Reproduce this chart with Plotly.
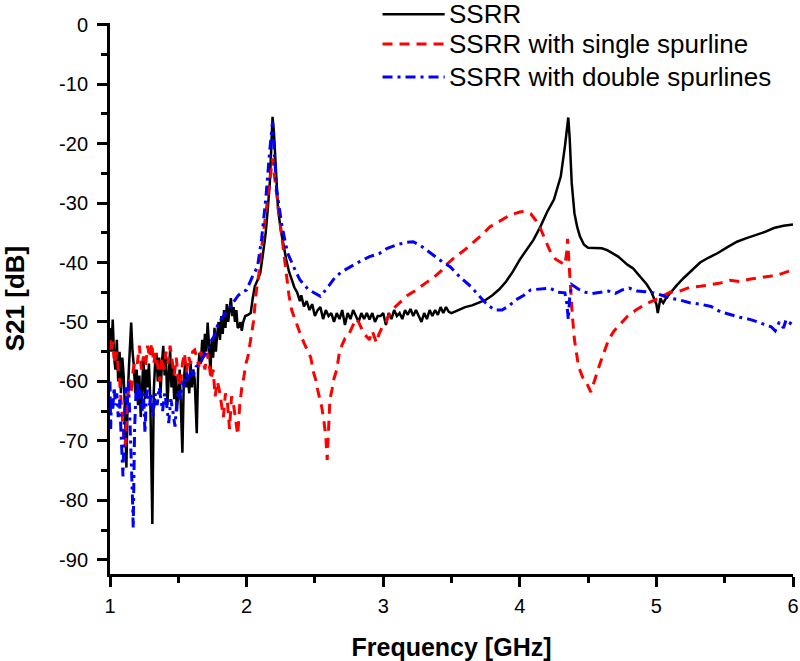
import plotly.graph_objects as go

# ---------------- data ----------------
ssrr_f = [1.00, 1.01, 1.02, 1.03, 1.04, 1.05, 1.06, 1.07, 1.08, 1.09, 1.10, 1.11, 1.12, 1.13, 1.14,
          1.155, 1.165, 1.175, 1.185, 1.195, 1.205, 1.215, 1.225, 1.235, 1.245, 1.255, 1.265, 1.275,
          1.285, 1.295, 1.31, 1.32, 1.33, 1.34, 1.35, 1.36, 1.37, 1.38, 1.39, 1.40, 1.41, 1.42, 1.43,
          1.44, 1.45, 1.46, 1.47, 1.48, 1.49, 1.50, 1.51, 1.52, 1.53, 1.54, 1.55, 1.56, 1.57, 1.58,
          1.59, 1.60, 1.61, 1.62, 1.635, 1.645, 1.655, 1.665, 1.675, 1.685, 1.695, 1.705, 1.715,
          1.725, 1.735, 1.745, 1.755, 1.765, 1.775, 1.785, 1.795, 1.805, 1.815, 1.825, 1.835, 1.845,
          1.855, 1.865, 1.875, 1.885, 1.895, 1.905, 1.915, 1.925, 1.935, 1.945, 1.955, 1.965, 1.975,
          1.99, 2.01, 2.03, 2.045, 2.06, 2.08, 2.10, 2.12, 2.14, 2.155, 2.17, 2.18, 2.19, 2.20, 2.21,
          2.22, 2.23, 2.25, 2.27, 2.29, 2.31, 2.33, 2.35, 2.37, 2.39, 2.40, 2.42, 2.44, 2.46, 2.48,
          2.50, 2.52, 2.54, 2.56, 2.58, 2.60, 2.62, 2.64, 2.66, 2.68, 2.70, 2.72, 2.74, 2.76, 2.78,
          2.80, 2.82, 2.84, 2.86, 2.88, 2.90, 2.92, 2.94, 2.96, 2.98, 3.00, 3.02, 3.04, 3.06, 3.08,
          3.10, 3.12, 3.14, 3.16, 3.18, 3.20, 3.22, 3.24, 3.26, 3.28, 3.30, 3.32, 3.34, 3.36, 3.38,
          3.40, 3.42, 3.44, 3.46, 3.48, 3.50, 3.55, 3.60, 3.65, 3.70, 3.75, 3.80, 3.85, 3.90, 3.95,
          4.00, 4.05, 4.10, 4.15, 4.20, 4.25, 4.30, 4.33, 4.345, 4.355, 4.365, 4.38, 4.40, 4.42, 4.44,
          4.47, 4.50, 4.55, 4.60, 4.64, 4.68, 4.72, 4.76, 4.79, 4.83, 4.86, 4.90, 4.93, 4.96, 4.98,
          5.00, 5.01, 5.02, 5.03, 5.04, 5.05, 5.07, 5.10, 5.15, 5.20, 5.26, 5.32, 5.38, 5.45, 5.52,
          5.59, 5.66, 5.74, 5.80, 5.86, 5.93, 6.00]
ssrr_s21 = [-51, -55, -49.6, -56, -58, -53, -60, -55, -62, -56, -59, -65, -74.5, -62, -57,
            -50.1, -55, -57.5, -62, -58, -64, -59, -66, -60, -56, -63, -58, -61,
            -57, -63, -84, -62, -57, -55.2, -60, -56, -62, -57, -54, -59, -56, -64, -58,
            -54.7, -61, -57, -63, -59, -65, -61.4, -58, -65, -72, -60, -57, -61, -59, -62,
            -57, -61, -58, -59.7, -68.7, -58, -55.2, -57, -53, -56, -52, -55, -50.1,
            -54, -58.5, -53, -56, -51, -55, -52, -50, -53, -49, -52, -48, -51,
            -47, -50, -48, -46, -49, -47.5, -50, -48, -51, -50.8, -50, -51.5, -50,
            -49, -48.8, -48.5, -46, -44, -43, -41.8, -38.5, -35, -31, -26.6, -21, -15.5, -18, -22.7,
            -27, -31, -34.5, -37.3, -39.5, -41.5, -43, -44.2, -45, -46.5, -45.5, -47.4, -46.5, -48, -47,
            -49, -48, -47.5, -49.5, -48, -49, -48.5, -50, -48.5, -49.5, -48, -50.5, -48.5, -49.5, -48,
            -49, -50, -48.5, -49.5, -48.5, -49.6, -48.5, -50, -49, -49, -48.5, -50.5, -48.5, -49.5, -48,
            -49, -48.5, -49.5, -48, -48.8, -47.8, -49, -48, -49, -50, -48.5, -49.5, -48, -49, -48,
            -48.8, -47.5, -48.5, -47.5, -48.3, -48.5, -48, -47.5, -47.2, -46.8, -46.3, -45.5, -44.5, -43.2, -41.5,
            -39.5, -37.8, -36.2, -34, -31.5, -29.4, -25.5, -20.5, -17.5, -15.6, -19, -26.6, -31.7, -34, -35.6,
            -37, -37.5, -37.6, -37.6, -37.9, -38.4, -39, -39.8, -40.4, -41, -41.8, -42.8, -43.7, -44.8, -45.8,
            -47, -48.5, -47.5, -46, -46.5, -46.8, -46, -45.1, -43.8, -42.6, -41.3, -40, -39.2, -38.4, -37.4,
            -36.5, -35.9, -35.3, -34.8, -34.2, -33.8, -33.6]

single_f = [1.00, 1.01, 1.02, 1.03, 1.04, 1.05, 1.06, 1.07, 1.08, 1.09, 1.10, 1.11, 1.115, 1.125,
            1.14, 1.155, 1.17, 1.185, 1.20, 1.215, 1.23, 1.245, 1.26, 1.275, 1.29, 1.305, 1.32,
            1.335, 1.35, 1.365, 1.38, 1.395, 1.41, 1.425, 1.44, 1.455, 1.47, 1.485, 1.50, 1.515,
            1.53, 1.545, 1.56, 1.575, 1.59, 1.605, 1.62, 1.635, 1.65, 1.665, 1.68, 1.695, 1.71,
            1.725, 1.74, 1.755, 1.77, 1.785, 1.80, 1.815, 1.83, 1.845, 1.86, 1.875, 1.89, 1.905,
            1.92, 1.935, 1.95, 1.965, 1.98, 1.995, 2.01, 2.03, 2.05, 2.07, 2.09, 2.11, 2.13, 2.15,
            2.17, 2.19, 2.21, 2.23, 2.25, 2.27, 2.29, 2.31, 2.33, 2.36, 2.39, 2.42, 2.45, 2.47,
            2.49, 2.51, 2.52, 2.535, 2.55, 2.565, 2.58, 2.59, 2.60, 2.61, 2.625, 2.64, 2.66, 2.68,
            2.70, 2.72, 2.74, 2.76, 2.78, 2.80, 2.82, 2.84, 2.86, 2.88, 2.90, 2.92, 2.95, 2.97,
            2.99, 3.02, 3.05, 3.09, 3.13, 3.18, 3.23, 3.27, 3.32, 3.37, 3.42, 3.47, 3.53, 3.60,
            3.67, 3.73, 3.78, 3.85, 3.93, 4.00, 4.04, 4.08, 4.12, 4.15, 4.18, 4.22, 4.26, 4.30,
            4.33, 4.345, 4.35, 4.36, 4.37, 4.385, 4.40, 4.43, 4.46, 4.49, 4.52, 4.55, 4.58, 4.61,
            4.65, 4.69, 4.74, 4.79, 4.85, 4.92, 4.99, 5.05, 5.10, 5.17, 5.24, 5.32, 5.39, 5.46,
            5.54, 5.61, 5.68, 5.76, 5.83, 5.90, 5.96, 6.00]
single_s21 = [-53, -55.2, -53.3, -56, -57, -55, -58, -59.7, -63, -66.5, -69, -71, -68, -65.3,
              -59.7, -62, -58, -56.4, -57, -54, -58, -55.8, -57.5, -54, -56, -53.5, -57,
              -55.2, -57.5, -60, -56, -58, -55, -57, -54, -57, -59, -56, -59.7, -61,
              -57, -55.2, -58.5, -55.8, -57, -55, -54.7, -56, -57.5, -55, -56.4, -58, -55.2,
              -57, -59.7, -58, -62.5, -60, -61.4, -64, -66, -62, -63.6, -68, -62.5, -64,
              -67, -69, -64, -61, -59.2, -57, -55.8, -52.5, -50, -45, -41.8, -37.5, -33.5, -30,
              -26, -22.5, -26.6, -30.5, -34, -38, -42, -45.5, -48, -50, -51.8, -53.5, -55, -56,
              -58.5, -60, -61.4, -63, -64.3, -66.5, -69.3, -73.2, -67, -63, -61.4, -59.5, -58, -55,
              -53.8, -52.8, -52.5, -51.5, -50.5, -49.5, -50, -51, -52, -52.5, -53, -51.5, -53.5, -52,
              -51, -50, -48.5, -47.4, -46.5, -45.5, -44.8, -44.2, -43.3, -42.5, -41.5, -40.2, -39, -37.8,
              -36.4, -35.2, -34, -33, -32, -31.5, -31.4, -31.8, -33, -34.2, -35.8, -38, -39.4, -40,
              -40.4, -38, -36, -40, -44, -49, -53, -57.5, -59.3, -60.3, -61.8, -59.5, -57.5, -55.5,
              -53, -51.5, -50.2, -49, -48, -47, -46.3, -45.6, -45, -44.8, -44.2, -44, -43.7, -43.5,
              -43, -43.2, -42.8, -42.6, -42.3, -42, -41.5, -41.2]

double_f = [1.00, 1.005, 1.01, 1.02, 1.03, 1.04, 1.05, 1.06, 1.07, 1.08, 1.09, 1.095, 1.105, 1.115,
            1.125, 1.135, 1.145, 1.155, 1.165, 1.17, 1.175, 1.18, 1.19, 1.20, 1.21, 1.22, 1.235,
            1.245, 1.256, 1.265, 1.275, 1.29, 1.30, 1.315, 1.33, 1.345, 1.36, 1.37, 1.385, 1.40,
            1.415, 1.43, 1.445, 1.46, 1.476, 1.49, 1.50, 1.515, 1.53, 1.545, 1.56, 1.575, 1.59,
            1.61, 1.63, 1.66, 1.69, 1.71, 1.73, 1.76, 1.78, 1.80, 1.83, 1.86, 1.88, 1.91, 1.94,
            1.97, 2.00, 2.04, 2.08, 2.11, 2.14, 2.17, 2.19, 2.205, 2.22, 2.26, 2.30, 2.35, 2.39,
            2.45, 2.50, 2.54, 2.60, 2.65, 2.70, 2.76, 2.83, 2.90, 2.97, 3.03, 3.10, 3.17, 3.22,
            3.27, 3.32, 3.38, 3.44, 3.49, 3.56, 3.64, 3.71, 3.75, 3.78, 3.82, 3.87, 3.92, 3.97,
            4.03, 4.08, 4.15, 4.22, 4.28, 4.33, 4.345, 4.355, 4.365, 4.38, 4.43, 4.48, 4.53, 4.59,
            4.65, 4.70, 4.75, 4.80, 4.86, 4.92, 4.98, 5.04, 5.10, 5.17, 5.25, 5.32, 5.40, 5.47,
            5.54, 5.61, 5.69, 5.76, 5.80, 5.84, 5.87, 5.90, 5.93, 5.95, 5.98, 6.00]
double_s21 = [-60, -68, -63, -65, -61, -64, -62, -66, -63, -68, -72, -76, -66, -61,
              -64, -60, -66, -72, -80, -84.7, -76, -68, -62, -60, -63, -61.4, -65,
              -62, -68.7, -63, -61.4, -64, -62, -66, -62, -64, -61, -62.5, -65, -62,
              -64, -67, -63, -65, -67.6, -63, -61.4, -63, -60, -61, -58.5, -60, -58,
              -59, -57.5, -57, -55.5, -55, -53.5, -52.5, -51, -50, -49, -48, -47.4, -46.5, -45.5,
              -45, -44.6, -42.5, -40.7, -36, -29.4, -21, -16.3, -22.2, -27.8, -34, -38.4, -41, -42.9,
              -44.5, -45.1, -45.7, -44, -42.4, -41.5, -40.7, -39.8, -39, -38.5, -37.6, -37, -36.6, -36.5,
              -37.1, -38, -39, -40, -40.7, -42.4, -44, -45.8, -46.8, -47.4, -48, -48, -47.3, -46.3,
              -45.5, -44.6, -44.4, -44.3, -45, -45.1, -47, -49.6, -46, -43.7, -44.5, -45, -45.2, -45,
              -44.8, -45.2, -44.6, -44.3, -44.8, -44.9, -45.1, -45.5, -46, -46.3, -46.8, -47, -47.4, -48.3,
              -48.8, -49.2, -49.6, -50.2, -50.5, -50.8, -51.5, -50, -51, -49.6, -50.2, -49.5]

series_names = ["SSRR", "SSRR with single spurline", "SSRR with double spurlines"]
series_colors = ["#000000", "#ff0000", "#0000ff"]
series_dash = ["solid", "10px,7px", "10px,5px,3px,5px"]
series_width = [2.5, 3, 3]

x_tickvals = [1, 2, 3, 4, 5, 6]
x_ticktext = ["1", "2", "3", "4", "5", "6"]
y_tickvals = [0, -10, -20, -30, -40, -50, -60, -70, -80, -90]
y_ticktext = ["0", "-10", "-20", "-30", "-40", "-50", "-60", "-70", "-80", "-90"]

FONT = "Arial, Liberation Sans, sans-serif"

fig = go.Figure()
for f, s, n, c, d, w in zip([ssrr_f, single_f, double_f], [ssrr_s21, single_s21, double_s21],
                            series_names, series_colors, series_dash, series_width):
    fig.add_trace(go.Scatter(x=f, y=s, mode="lines", name=n,
                             line=dict(color=c, dash=d, width=w), showlegend=False))

# manual legend (long line samples as in the original)
leg_rows_y = [1.016, 0.962, 0.902]
for n, c, d, w, yy in zip(series_names, series_colors, series_dash, series_width, leg_rows_y):
    fig.add_shape(type="line", xref="paper", yref="paper", x0=0.399, x1=0.490, y0=yy, y1=yy,
                  line=dict(color=c, dash=d, width=w))
    fig.add_annotation(xref="paper", yref="paper", x=0.494, y=yy, text=n, showarrow=False,
                       xanchor="left", yanchor="middle",
                       font=dict(family=FONT, size=26, color="black"))

fig.update_layout(
    width=800, height=661,
    margin=dict(l=110, r=7, t=23, b=87, autoexpand=False),
    plot_bgcolor="white", paper_bgcolor="white",
    font=dict(family=FONT, color="black"),
    showlegend=False,
)
fig.update_xaxes(
    range=[1, 6], tickvals=x_tickvals, ticktext=x_ticktext, ticks="outside", ticklen=10,
    tickwidth=2.5, tickcolor="black", showline=True, linewidth=3, linecolor="black",
    showgrid=False, zeroline=False, tickfont=dict(size=20, family=FONT), ticklabelstandoff=2,
    automargin=False,
    minor=dict(dtick=0.5, tick0=1, ticks="outside", ticklen=6, tickwidth=2.5,
               tickcolor="black", showgrid=False),
    title=dict(text="Frequency [GHz]", font=dict(size=25, family=FONT, weight="bold"),
               standoff=23),
)
fig.update_yaxes(
    range=[-92.4, 0.3], tickvals=y_tickvals, ticktext=y_ticktext, ticks="outside", ticklen=10,
    tickwidth=2.5, tickcolor="black", showline=True, linewidth=3, linecolor="black",
    showgrid=False, zeroline=False, tickfont=dict(size=20, family=FONT), ticklabelstandoff=5,
    automargin=False,
    minor=dict(dtick=5, tick0=0, ticks="outside", ticklen=6, tickwidth=2.5,
               tickcolor="black", showgrid=False),
    title=dict(text="S21 [dB]", font=dict(size=26, family=FONT, weight="bold"),
               standoff=40),
)

# remove the default 8px page margin so the 800x661 figure fills the window exactly
fig.write_html("out.html", config={"displayModeBar": False},
               post_script="document.body.style.margin='0';")
